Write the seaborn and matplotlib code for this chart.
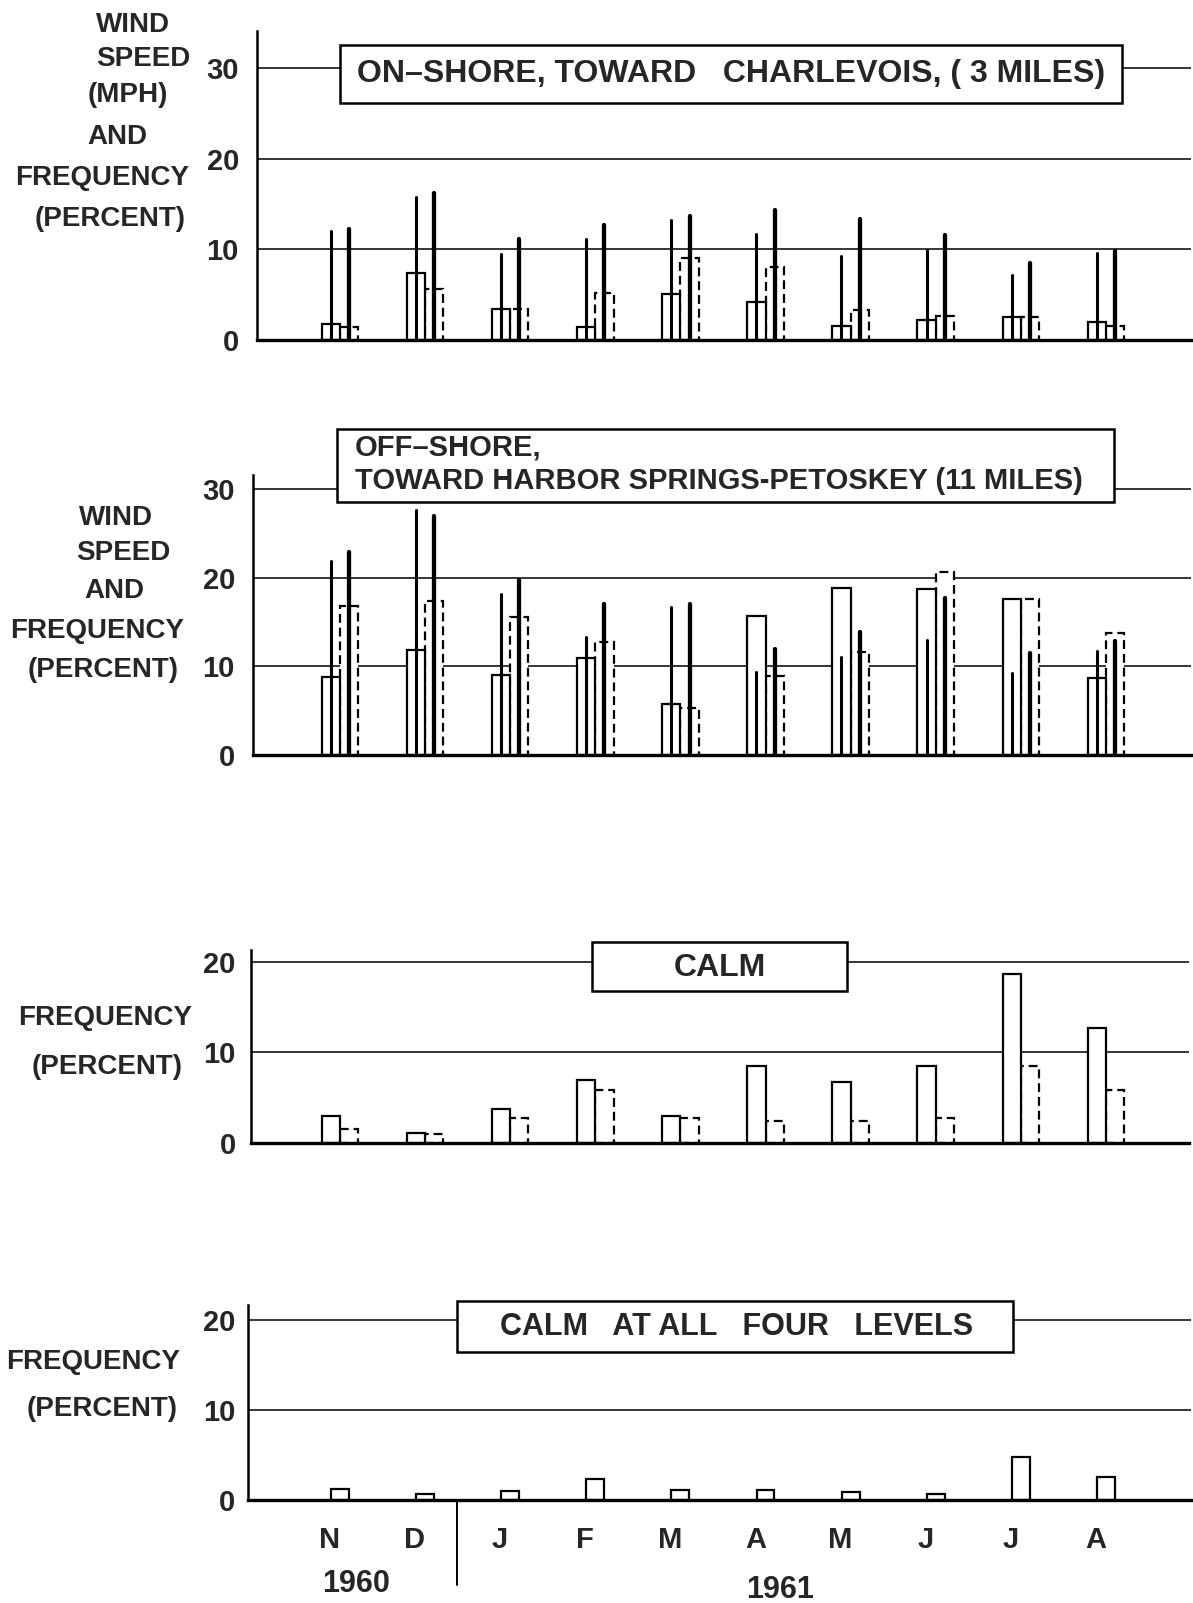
import numpy as np
import pandas as pd
import seaborn as sns
import matplotlib.pyplot as plt
from matplotlib.patches import Rectangle

# months Nov 1960 .. Aug 1961
months = ['N', 'D', 'J', 'F', 'M', 'A', 'M', 'J', 'J', 'A']
month_ids = [f'{m}{i}' for i, m in enumerate(months)]

# on-shore, toward Charlevois (3 miles)
on_freq_solid = [1.75, 7.35, 3.4, 1.45, 5.05, 4.15, 1.55, 2.2, 2.5, 1.95]
on_freq_dash = [1.4, 5.6, 3.4, 5.2, 9.05, 8.1, 3.35, 2.7, 2.5, 1.55]
on_speed_solid = [12.0, 15.75, 9.5, 11.1, 13.2, 11.7, 9.3, 9.9, 7.2, 9.6]
on_speed_dash = [12.3, 16.2, 11.1, 12.7, 13.7, 14.4, 13.3, 11.6, 8.5, 9.8]

# off-shore, toward Harbor Springs-Petoskey (11 miles)
off_freq_solid = [8.85, 11.9, 9.0, 11.0, 5.8, 15.7, 18.8, 18.7, 17.6, 8.65]
off_freq_dash = [16.8, 17.35, 15.6, 12.75, 5.25, 8.9, 11.6, 20.6, 17.55, 13.8]
off_speed_solid = [21.9, 27.6, 18.2, 13.3, 16.7, 9.4, 11.1, 13.0, 9.3, 11.7]
off_speed_dash = [22.9, 27.0, 19.75, 17.0, 17.0, 12.0, 13.9, 17.7, 11.5, 12.9]

# calm
calm_solid = [3.0, 1.1, 3.8, 6.9, 3.0, 8.55, 6.7, 8.5, 18.6, 12.7]
calm_dash = [1.5, 0.95, 2.75, 5.8, 2.75, 2.4, 2.4, 2.8, 8.55, 5.8]

# calm at all four levels
calm_all = [1.2, 0.7, 0.95, 2.3, 1.1, 1.1, 0.85, 0.65, 4.8, 2.6]

W, H = 1193, 1603
sns.set_theme(style='white')
plt.rcParams['font.family'] = ['Liberation Sans', 'DejaVu Sans']
plt.rcParams['font.weight'] = 'bold'

fig = plt.figure(figsize=(W / 100, H / 100), dpi=100)
fig.patch.set_facecolor('white')


def fx(x):
    return x / W


def fy(y):
    return 1 - y / H


def make_ax(left, right, base, top):
    ax = fig.add_axes([fx(left), fy(base), (right - left) / W, (base - top) / H])
    ax.set_facecolor('white')
    return ax


def finish_ax(ax, left, right, ymax, ticks, pad):
    ax.set_xlim((left - 340) / 85.1, (right - 340) / 85.1)
    ax.set_ylim(0, ymax)
    for t in ticks[1:]:
        ax.axhline(t, color='black', lw=1.1, zorder=0.5)
    ax.set_yticks(ticks)
    ax.set_yticklabels([str(t) for t in ticks], fontsize=21, fontweight='bold')
    ax.tick_params(axis='y', length=0, pad=pad)
    ax.set_xlabel('')
    ax.set_ylabel('')
    for s in ['top', 'right']:
        ax.spines[s].set_visible(False)
    ax.spines['left'].set_linewidth(1.8)
    ax.spines['left'].set_color('black')
    ax.spines['bottom'].set_linewidth(2.4)
    ax.spines['bottom'].set_color('black')
    ax.spines['bottom'].set_zorder(6)


def pair_panel(ax, freq_a, freq_b):
    df = pd.DataFrame({
        'month': month_ids * 2,
        'freq': list(freq_a) + list(freq_b),
        'level': ['a'] * 10 + ['b'] * 10,
    })
    sns.barplot(data=df, x='month', y='freq', hue='level', order=month_ids,
                palette=['white', 'white'], saturation=1, width=0.43,
                edgecolor='black', linewidth=1.6, errorbar=None, legend=False, ax=ax)
    for p in ax.containers[1]:
        p.set_linestyle((0, (4, 2.2)))
        p.set_zorder(1)
    for p in ax.containers[0]:
        p.set_zorder(1.5)


def speed_lines(ax, sp_a, sp_b):
    xs = np.arange(10)
    ax.vlines(xs - 0.1075, 0, sp_a, colors='black', lw=2.2, zorder=3, capstyle='round')
    ax.vlines(xs + 0.1075, 0, sp_b, colors='black', lw=3.1, zorder=3, capstyle='round')


def box(x0, x1, y0, y1):
    fig.add_artist(Rectangle((fx(x0), fy(y1)), (x1 - x0) / W, (y1 - y0) / H,
                             transform=fig.transFigure, facecolor='white',
                             edgecolor='black', lw=1.8, zorder=3))


def ftext(x, y, s, size=20, ha='center', **kw):
    fig.text(fx(x), fy(y), s, ha=ha, va='center', fontsize=size,
             fontweight='bold', zorder=4, **kw)


# panel 1: on-shore
ax1 = make_ax(257, 1191, 340, 31)
pair_panel(ax1, on_freq_solid, on_freq_dash)
speed_lines(ax1, on_speed_solid, on_speed_dash)
finish_ax(ax1, 257, 1191, 34.1, [0, 10, 20, 30], 13)
ax1.set_xticks([])

# panel 2: off-shore
ax2 = make_ax(253, 1191, 755, 475)
pair_panel(ax2, off_freq_solid, off_freq_dash)
speed_lines(ax2, off_speed_solid, off_speed_dash)
finish_ax(ax2, 253, 1191, 31.6, [0, 10, 20, 30], 13)
ax2.set_xticks([])

# panel 3: calm
ax3 = make_ax(251, 1189, 1143, 950)
pair_panel(ax3, calm_solid, calm_dash)
finish_ax(ax3, 251, 1189, 21.3, [0, 10, 20], 11)
ax3.set_xticks([])

# panel 4: calm at all four levels
ax4 = make_ax(248, 1191, 1500, 1305)
df4 = pd.DataFrame({'month': month_ids, 'freq': calm_all})
sns.barplot(data=df4, x='month', y='freq', order=month_ids, color='white',
            saturation=1, width=0.21, edgecolor='black', linewidth=1.6,
            errorbar=None, ax=ax4)
finish_ax(ax4, 248, 1191, 21.7, [0, 10, 20], 9)
ax4.set_xticks(np.arange(10) - 0.12)
ax4.set_xticklabels(months, fontsize=21, fontweight='bold')
ax4.tick_params(axis='x', length=0, pad=19)

# year separator and years
ax4.plot([fx(457), fx(457)], [fy(1500), fy(1585)], transform=fig.transFigure,
         color='black', lw=1.4, clip_on=False)
ftext(356, 1584, '1960', size=22)
ftext(780, 1590, '1961', size=22)

# title boxes
box(340, 1122, 45, 103)
ftext(731, 74, 'ON–SHORE, TOWARD   CHARLEVOIS, ( 3 MILES)', size=23)
box(337, 1114, 429, 502)
ftext(355, 447, 'OFF–SHORE,', size=21, ha='left')
ftext(355, 481, 'TOWARD HARBOR SPRINGS-PETOSKEY (11 MILES)', size=21, ha='left')
box(592, 847, 942, 991)
ftext(720, 968, 'CALM', size=23)
box(457, 1013, 1301, 1352)
ftext(737, 1327, 'CALM   AT ALL   FOUR   LEVELS', size=22)

# y-axis labels
for x, y, s in [(133, 25, 'WIND'), (143, 59, 'SPEED'), (128, 95, '(MPH)'),
                (117, 137, 'AND'), (102, 178, 'FREQUENCY'), (110, 219, '(PERCENT)'),
                (116, 518, 'WIND'), (123, 553, 'SPEED'), (114, 591, 'AND'),
                (97, 631, 'FREQUENCY'), (103, 670, '(PERCENT)'),
                (105, 1018, 'FREQUENCY'), (107, 1067, '(PERCENT)'),
                (93, 1362, 'FREQUENCY'), (102, 1409, '(PERCENT)')]:
    ftext(x, y, s)

fig.savefig('out.png', dpi=100, facecolor='white')
